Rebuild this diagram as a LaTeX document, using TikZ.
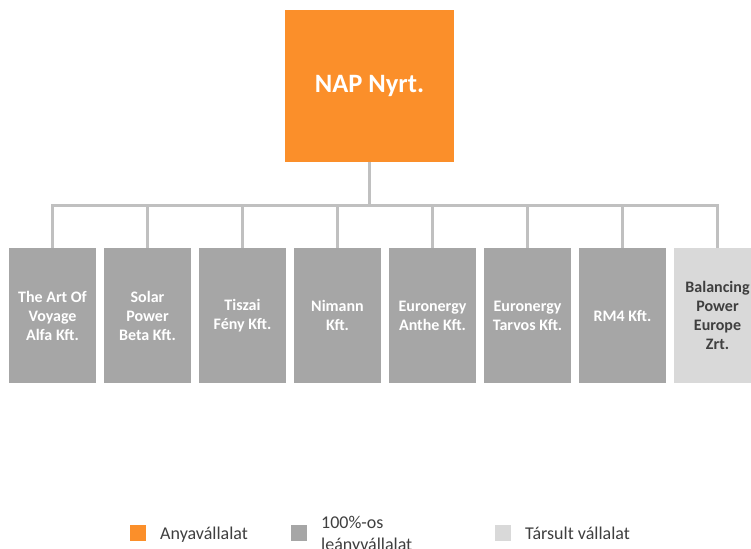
\documentclass[tikz,border=0pt]{standalone}
\usepackage{fontspec}
\setmainfont{Carlito}
\usepackage{tikz}
\usetikzlibrary{positioning}

\definecolor{naporange}{HTML}{FB8F2A}
\definecolor{subgray}{HTML}{A6A6A6}
\definecolor{assocgray}{HTML}{D9D9D9}
\definecolor{linkgray}{HTML}{C0C0C0}
\definecolor{textdark}{HTML}{3F3F3F}

\begin{document}
\begin{tikzpicture}[x=1pt,y=-1pt,node distance=95pt,on grid,
    parent/.style={fill=naporange,minimum width=169pt,minimum height=152pt,
        text=white,font=\fontsize{26.5}{30}\selectfont\bfseries},
    child/.style={fill=subgray,minimum width=87pt,minimum height=135pt,
        text=white,align=center,inner sep=0pt,
        font=\fontsize{16}{19}\selectfont\bfseries},
    assoc/.style={child,fill=assocgray,text=textdark},
    link/.style={draw=linkgray,line width=3pt},
    legbox/.style={minimum width=16pt,minimum height=16pt,inner sep=0pt},
    legtext/.style={anchor=base west,align=left,text=textdark,inner sep=0pt,
        font=\fontsize{18}{21.5}\selectfont}]
               \useasboundingbox (0,0) rectangle (751,548);
               \clip (0,0) rectangle (751,548);
               \node[parent] (nap) at (369.5,86) {NAP Nyrt.};
               \node[child] (c1) at (52.5,315.5) {The Art Of\\Voyage\\Alfa Kft.};
               \node[child] (c2) [right=of c1] {Solar\\Power\\Beta Kft.};
               \node[child] (c3) [right=of c2] {Tiszai\\Fény Kft.};
               \node[child] (c4) [right=of c3] {Nimann\\Kft.};
               \node[child] (c5) [right=of c4] {Euronergy\\Anthe Kft.};
               \node[child] (c6) [right=of c5] {Euronergy\\Tarvos Kft.};
               \node[child] (c7) [right=of c6] {RM4 Kft.};
               \node[assoc] (c8) [right=of c7] {Balancing\\Power\\Europe\\Zrt.};
               \coordinate (bus) at (369.5,205);
		\draw[link] (nap.south) -- (bus);
		\foreach \c in {c1,c2,c3,c4,c5,c6,c7,c8}
			\draw[link] (bus) -| (\c.north);
               % legend
               \node[legbox,fill=naporange] (lnap) at (138,532.5) {};
               \node[legtext] (tnap) at (160,539) {Anyavállalat};
               \node[legbox,fill=subgray] (lsub) at (299,532.5) {};
               \node[legtext,anchor=west] (tsub) at (321,535) {100\%-os\\leányvállalat};
               \node[legbox,fill=assocgray] (lass) at (503,532.5) {};
               \node[legtext] (tass) at (525,539) {Társult vállalat};
            \end{tikzpicture}
\end{document}
